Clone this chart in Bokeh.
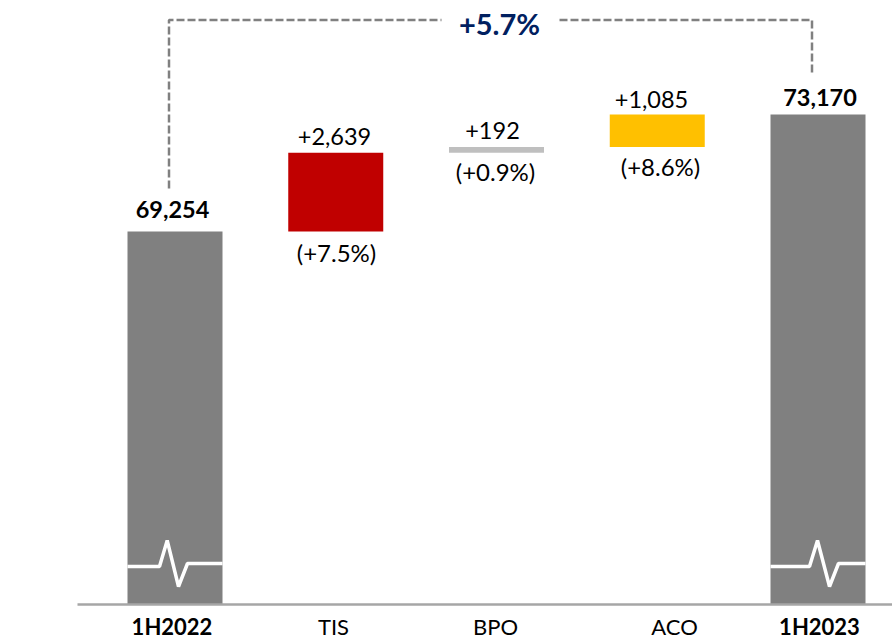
from bokeh.embed import file_html
from bokeh.resources import INLINE
from bokeh.plotting import figure
from bokeh.models import Range1d, Label, ColumnDataSource

categories = ["1H2022", "TIS", "BPO", "ACO", "1H2023"]
bar_starts = [0, 69254, 71893, 72085, 0]
bar_ends = [69254, 71893, 72085, 73170, 73170]
bar_colors = ["#808080", "#C00000", "#BFBFBF", "#FFC000", "#808080"]
value_labels = ["69,254", "+2,639", "+192", "+1,085", "73,170"]
pct_labels = [None, "(+7.5%)", "(+0.9%)", "(+8.6%)", None]
growth_label = "+5.7%"

FONT = "Lato"
BAR_PITCH = 160.75
BAR_ZERO = 174.5
BAR_W = 95 / BAR_PITCH
Y_PX = 117.0 / (73170 - 69254)
BASE_PX = 604.0
BASE_VAL = 69254 - (BASE_PX - 231) / Y_PX

def xv(px):
    return (px - BAR_ZERO) / BAR_PITCH

def yv(py):
    return BASE_VAL + (BASE_PX - py) / Y_PX

p = figure(width=892, height=639, output_backend="svg", toolbar_location=None,
           x_range=Range1d(xv(0), xv(892)), y_range=Range1d(yv(639), yv(0)),
           min_border_left=0, min_border_right=0, min_border_top=0, min_border_bottom=0)
p.outline_line_color = None
p.grid.visible = False
p.yaxis.visible = False
p.xaxis.visible = False

bottoms = [max(s, BASE_VAL) for s in bar_starts]
src = ColumnDataSource(dict(x=list(range(5)), top=bar_ends, bottom=bottoms, color=bar_colors))
p.vbar(x="x", top="top", bottom="bottom", width=BAR_W, fill_color="color", line_color=None, source=src)

# baseline starts at x = 77 in the reference
p.line([xv(77), xv(892)], [BASE_VAL, BASE_VAL], line_color="#A6A6A6", line_width=2.5)

# pulse marks on the two truncated total bars
pulse_a_x = [127, 159, 166.7, 178, 187, 222]
pulse_b_x = [770, 809, 817, 829, 838, 865]
pulse_y = [566, 566, 540, 586, 563, 563]
for xs in (pulse_a_x, pulse_b_x):
    p.line([xv(a) for a in xs], [yv(b) for b in pulse_y], line_color="white", line_width=3.5)

# dashed growth connector
dash = dict(line_color="#808080", line_width=2.5, line_dash="8 3")
p.line([xv(168.5), xv(168.5), xv(441)], [yv(188), yv(19.5), yv(19.5)], **dash)
p.line([xv(559), xv(811.5), xv(811.5)], [yv(19.5), yv(19.5), yv(72)], **dash)

def label(text, cx, cy, size, bold=False, color="black"):
    p.add_layout(Label(x=xv(cx), y=yv(cy), text=text, text_font=FONT, text_font_size=f"{size}px",
                       text_font_style="bold" if bold else "normal", text_color=color,
                       text_align="center", text_baseline="middle"))

value_pos = [(172, 209), (334, 136), (492, 130), (651, 99), (819.5, 96.5)]
pct_pos = [None, (336, 252), (495, 171), (660, 166), None]
tick_pos = [171.5, 333, 495, 674, 819]
for i, t in enumerate(value_labels):
    label(t, *value_pos[i], 23.5, bold=i in (0, 4))
    if pct_labels[i]:
        label(pct_labels[i], *pct_pos[i], 24)
    label(categories[i], tick_pos[i], 625.5, 22, bold=i in (0, 4))
label(growth_label, 499, 23, 29, bold=True, color="#002060")

open("out.html", "w").write(file_html(p, INLINE))
